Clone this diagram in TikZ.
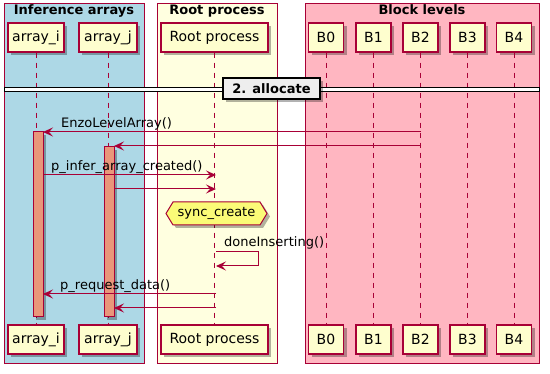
\documentclass[tikz,border=0pt]{standalone}
\usepackage{fontspec}
\setmainfont{DejaVu Sans}
\usetikzlibrary{arrows.meta,shadows}

\definecolor{umlred}{HTML}{A80036}
\definecolor{umlpart}{HTML}{FEFECE}
\definecolor{grpblue}{HTML}{ADD8E6}
\definecolor{grpyellow}{HTML}{FFFFE0}
\definecolor{grppink}{HTML}{FFB6C1}
\definecolor{actsalmon}{HTML}{E9967A}
\definecolor{hexyellow}{HTML}{FBFB77}
\definecolor{divgray}{HTML}{EEEEEE}

\tikzset{
  part/.style={draw=umlred, line width=1.2pt, fill=umlpart, minimum height=29pt,
               inner sep=0pt, font=\fontsize{14}{16}\selectfont,
               drop shadow={shadow xshift=3pt, shadow yshift=-3pt, opacity=0.3, fill=black}},
  grp/.style={draw=umlred, line width=1pt},
  life/.style={draw=umlred, line width=0.9pt, dash pattern=on 5pt off 5pt},
  act/.style={draw=umlred, line width=1pt, fill=actsalmon, minimum width=10pt, inner sep=0pt,
              drop shadow={shadow xshift=3pt, shadow yshift=-3pt, opacity=0.3, fill=black}},
  msg/.style={draw=umlred, line width=1pt, -{Stealth[length=10pt, width=9pt, inset=4pt]}},
  lbl/.style={anchor=base west, inner sep=0pt, font=\fontsize{13}{15}\selectfont},
  title/.style={anchor=base, inner sep=0pt, font=\fontsize{13}{15}\selectfont\bfseries}
}

\begin{document}
\begin{tikzpicture}[x=1pt, y=-1pt]
      \useasboundingbox (0,0) rectangle (550,374);
      %% boxes around the participants
      \filldraw [grp, fill=grpblue]   (4,4)   rectangle (144,364);
      \filldraw [grp, fill=grpyellow] (157,4) rectangle (277,364);
      \filldraw [grp, fill=grppink]   (305,4) rectangle (539,364);
      \node [title] (tinf)  at ( 74,15) {Inference arrays};
      \node [title] (troot) at (217,15) {Root process};
      \node [title] (tblk)  at (422,15) {Block levels};

      %% participants, top row
      \node [part, minimum width=56pt]  (arri)  at ( 36.0, 37.5) {array\_i};
      \node [part, minimum width=58pt]  (arrj)  at (108.0, 37.5) {array\_j};
      \node [part, minimum width=107pt] (root)  at (214.5, 37.5) {Root process};
      \node [part, minimum width=35pt]  (b0)    at (326.0, 37.5) {B0};
      \node [part, minimum width=35pt]  (b1)    at (373.5, 37.5) {B1};
      \node [part, minimum width=35pt]  (b2)    at (420.5, 37.5) {B2};
      \node [part, minimum width=35pt]  (b3)    at (467.5, 37.5) {B3};
      \node [part, minimum width=35pt]  (b4)    at (514.0, 37.5) {B4};
      %% participants, bottom row
      \node [part, minimum width=56pt]  (arrib) at ( 36.0,339.5) {array\_i};
      \node [part, minimum width=58pt]  (arrjb) at (108.0,339.5) {array\_j};
      \node [part, minimum width=107pt] (rootb) at (214.5,339.5) {Root process};
      \node [part, minimum width=35pt]  (b0b)   at (326.0,339.5) {B0};
      \node [part, minimum width=35pt]  (b1b)   at (373.5,339.5) {B1};
      \node [part, minimum width=35pt]  (b2b)   at (420.5,339.5) {B2};
      \node [part, minimum width=35pt]  (b3b)   at (467.5,339.5) {B3};
      \node [part, minimum width=35pt]  (b4b)   at (514.0,339.5) {B4};

      %% lifelines
      \draw [life] (arri) -- (arrib);
      \draw [life] (arrj) -- (arrjb);
      \draw [life] (root) -- (rootb);
      \draw [life] (b0) -- (b0b);
      \draw [life] (b1) -- (b1b);
      \draw [life] (b2) -- (b2b);
      \draw [life] (b3) -- (b3b);
      \draw [life] (b4) -- (b4b);

      %% divider
      \filldraw [draw=black, fill=white, line width=1pt] (4,88) rectangle (539,92);
      \node [draw=black, line width=1.5pt, fill=divgray, minimum width=97pt, minimum height=21pt,
             inner sep=0pt, font=\fontsize{13}{15}\selectfont\bfseries,
             drop shadow={shadow xshift=3pt, shadow yshift=-3pt, opacity=0.3, fill=black}]
             (alloc) at (271.5,88.5) {2. allocate};

      %% activations
      \node [act, minimum height=185pt] (acti) at ( 38.0,224.5) {};
      \node [act, minimum height=170pt] (actj) at (109.0,232.0) {};

      %% message end points
      \coordinate (m1s) at (421,132);   \coordinate (m1e) at (43,132);
      \coordinate (m2s) at (421,146);   \coordinate (m2e) at (114,146);
      \coordinate (m3s) at (43,175);    \coordinate (m3e) at (216,175);
      \coordinate (m4s) at (114,189);   \coordinate (m4e) at (216,189);
      \coordinate (m5s) at (216,252);   \coordinate (m5e) at (216,266);
      \coordinate (m6s) at (216,294);   \coordinate (m6e) at (43,294);
      \coordinate (m7s) at (216,308);   \coordinate (m7e) at (114,308);

      \draw [msg] (m1s) -- (m1e);
      \node [lbl] (l1) at (61,128) {EnzoLevelArray()};
      \draw [msg] (m2s) -- (m2e);
      \draw [msg] (m3s) -- (m3e);
      \node [lbl] (l3) at (51,171) {p\_infer\_array\_created()};
      \draw [msg] (m4s) -- (m4e);

      %% sync point
      \filldraw [draw=umlred, line width=1pt, fill=hexyellow,
                 drop shadow={shadow xshift=3pt, shadow yshift=-3pt, opacity=0.3, fill=black}]
            (166,213.5) -- (173,202) -- (260,202) -- (267,213.5) -- (260,225) -- (173,225) -- cycle;
      \node [inner sep=0pt, font=\fontsize{13}{15}\selectfont] (sync) at (216.5,213.5) {sync\_create};

      \draw [msg] (m5s) -- ++(42,0) -- ++(0,14) -- (m5e);
      \node [lbl] (l5) at (224,247) {doneInserting()};
      \draw [msg] (m6s) -- (m6e);
      \node [lbl] (l6) at (60,290) {p\_request\_data()};
      \draw [msg] (m7s) -- (m7e);
\end{tikzpicture}
\end{document}
